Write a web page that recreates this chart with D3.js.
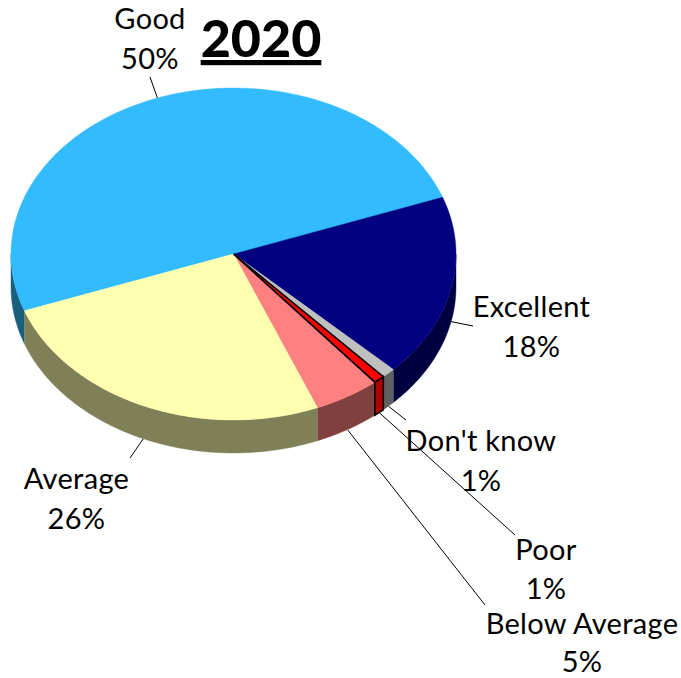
<!DOCTYPE html>
<html>
<head>
<meta charset="utf-8">
<script src="https://cdn.jsdelivr.net/npm/d3@7/dist/d3.min.js"></script>
<style>html,body{margin:0;padding:0;background:#fff;overflow:hidden}svg{display:block}</style>
</head>
<body>
<script>
const chartTitle = "2020";
const categories = ["Good", "Excellent", "Don't know", "Poor", "Below Average", "Average"];
const shares = [50, 17.8, 1, 0.8, 4.8, 25.6];
const topColors = ["#33BBFF", "#000080", "#C0C0C0", "#FF0000", "#FF8080", "#FFFFB0"];
const sideColors = ["#19607F", "#000040", "#606060", "#B00000", "#804040", "#808058"];

const W = 681, H = 678, depth = 33;
// label x, first baseline, second baseline, leader end x, leader end y
const labelPlace = {
  "Good": [150, 29, 69, 150, 77],
  "Excellent": [531.5, 317, 357, 473, 326],
  "Don't know": [481, 450.5, 490.5, 406, 420],
  "Poor": [546, 560, 598.5, 515, 535],
  "Below Average": [582, 633.5, 671.5, 485, 605],
  "Average": [76.5, 488.5, 528.5, 130, 458]
};

const svg = d3.select("body").append("svg").attr("width", W).attr("height", H);
const sx = d3.scaleLinear().domain([-1, 1]).range([11, 456]);
const sy = d3.scaleLinear().domain([-1, 1]).range([88, 420]);

const rad = d => d * Math.PI / 180;
const pie = d3.pie().sort(null).value(d => d.v).startAngle(rad(-110)).endAngle(rad(250));
const slices = pie(categories.map((c, i) => ({c, v: shares[i], top: topColors[i], side: sideColors[i]})));

const rimX = a => sx(Math.sin(a));
const rimY = a => sy(-Math.cos(a));
const samples = (a0, a1) => {
  const n = Math.max(2, Math.ceil((a1 - a0) / rad(1)));
  return d3.range(n + 1).map(i => a0 + (a1 - a0) * i / n);
};
const line = d3.line();

function topPath(s) {
  const pts = samples(s.startAngle, s.endAngle).map(a => [rimX(a), rimY(a)]);
  return line([[sx(0), sy(0)], ...pts]) + "Z";
}
// The lower half of the rim is visible: angles 90..270 degrees, also as -270..-90
function sidePath(s) {
  const parts = [0, -2 * Math.PI].map(shift => {
    const a0 = Math.max(s.startAngle, Math.PI / 2 + shift);
    const a1 = Math.min(s.endAngle, 3 * Math.PI / 2 + shift);
    if (a1 <= a0) return "";
    const pts = samples(a0, a1);
    const upper = pts.map(a => [rimX(a), rimY(a)]);
    const lower = pts.slice().reverse().map(a => [rimX(a), rimY(a) + depth]);
    return line([...upper, ...lower]) + "Z";
  });
  return parts.join("") || null;
}

// Leader lines
const leaders = svg.append("g").attr("stroke", "#000").attr("stroke-width", 1).attr("fill", "none");
slices.forEach(s => {
  const mid = (s.startAngle + s.endAngle) / 2;
  const front = Math.cos(mid) < 0;
  const p = labelPlace[s.data.c];
  leaders.append("line")
    .attr("x1", rimX(mid)).attr("y1", rimY(mid) + (front ? depth : 0))
    .attr("x2", p[3]).attr("y2", p[4]);
});

// Walls
const walls = svg.append("g");
slices.filter(s => s.data.c !== "Poor").forEach(s => {
  const d = sidePath(s);
  if (d) walls.append("path").attr("d", d).attr("fill", s.data.side).attr("stroke", s.data.side).attr("stroke-width", 0.4);
});
// Tops
const tops = svg.append("g");
slices.filter(s => s.data.c !== "Poor").forEach(s => {
  tops.append("path").attr("d", topPath(s)).attr("fill", s.data.top).attr("stroke", s.data.top).attr("stroke-width", 0.4);
});
// Outlined slice goes last
slices.filter(s => s.data.c === "Poor").forEach(s => {
  const g = svg.append("g").attr("stroke", "#000").attr("stroke-width", 1.6).attr("stroke-linejoin", "miter");
  g.append("path").attr("d", sidePath(s)).attr("fill", s.data.side);
  g.append("path").attr("d", topPath(s)).attr("fill", s.data.top);
});

// Labels
const font = "Lato, 'Open Sans', sans-serif";
slices.forEach(s => {
  const p = labelPlace[s.data.c];
  const t = svg.append("text").attr("text-anchor", "middle").attr("font-family", font)
    .attr("font-size", 29).attr("letter-spacing", 0.3).attr("fill", "#000");
  t.append("tspan").attr("x", p[0]).attr("y", p[1]).text(s.data.c);
  t.append("tspan").attr("x", p[0]).attr("y", p[2]).text(Math.round(s.data.v) + "%");
});

svg.append("text").attr("x", 261).attr("y", 57).attr("text-anchor", "middle")
  .attr("font-family", font).attr("font-weight", 900).attr("font-size", 52)
  .attr("text-decoration", "underline").attr("fill", "#000").text(chartTitle);
</script>
</body>
</html>
